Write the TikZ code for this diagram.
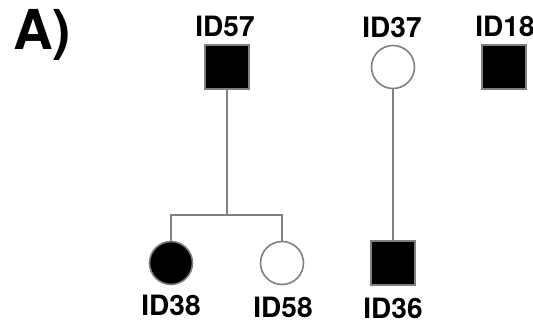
\documentclass[tikz,border=0pt]{standalone}
\usepackage{fontspec}
\setmainfont{TeX Gyre Heros}
\begin{document}
\begin{tikzpicture}[x=1pt,y=-1pt,
  line/.style={draw=black!50, line width=2pt},
  male/.style={rectangle, draw=black!50, line width=1.6pt, minimum size=44pt, inner sep=0pt},
  female/.style={circle, draw=black!50, line width=1.6pt, minimum size=43pt, inner sep=0pt},
  aff/.style={fill=black},
  unaff/.style={fill=white},
  lbl/.style={anchor=base, inner sep=0pt, font=\fontsize{28}{28}\selectfont\bfseries},
  panel/.style={anchor=base west, inner sep=0pt, font=\fontsize{55}{55}\selectfont\bfseries}
]
\useasboundingbox (0,0) rectangle (533,323);
\node[panel] (A) at (13,50) {A)};
% top generation
\node[male,aff] (p57) at (227,67) {};
\node[female,unaff] (p37) at (393,67) {};
\node[male,aff] (p18) at (504,67) {};
\node[lbl] (l57) at (225,37) {ID57};
\node[lbl] (l37) at (392,38) {ID37};
\node[lbl] (l18) at (505,37) {ID18};
% bottom generation
\node[female,aff] (p38) at (171,263) {};
\node[female,unaff] (p58) at (282,263) {};
\node[male,aff] (p36) at (393,263) {};
\node[lbl] (l38) at (171,315) {ID38};
\node[lbl] (l58) at (283,317) {ID58};
\node[lbl] (l36) at (393,318) {ID36};
% connectors
\coordinate (j) at (227,215);
\draw[line] (p57.south) -- (j);
\draw[line] (p38.north) -- (p38.north |- j) -- (p58.north |- j) -- (p58.north);
\draw[line] (p37.south) -- (p36.north);
\end{tikzpicture}
\end{document}
